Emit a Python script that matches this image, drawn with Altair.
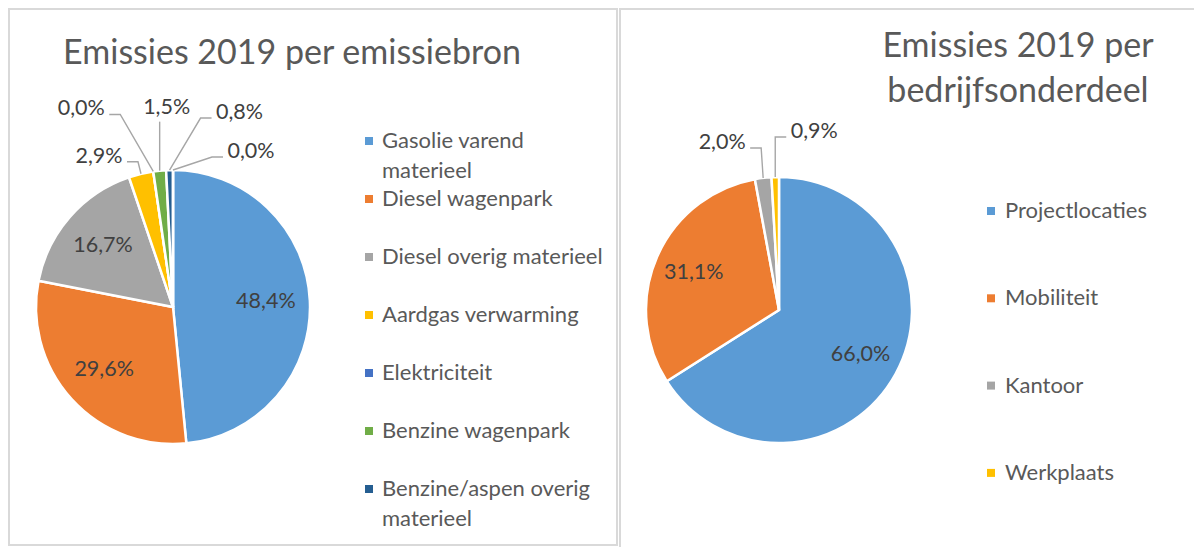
import math
import textwrap
import altair as alt
import pandas as pd

# ---------------- data ----------------
source_names = [
    "Gasolie varend materieel",
    "Diesel wagenpark",
    "Diesel overig materieel",
    "Aardgas verwarming",
    "Elektriciteit",
    "Benzine wagenpark",
    "Benzine/aspen overig materieel",
    "Overig",
]
source_values = [48.4, 29.6, 16.7, 2.9, 0.0, 1.5, 0.8, 0.0]
source_colors = ["#5B9BD5", "#ED7D31", "#A5A5A5", "#FFC000", "#4472C4", "#70AD47", "#255E91", "#9E480E"]
source_legend_count = 7  # the last category is not shown in the legend

unit_names = ["Projectlocaties", "Mobiliteit", "Kantoor", "Werkplaats"]
unit_values = [66.0, 31.1, 2.0, 0.9]
unit_colors = ["#5B9BD5", "#ED7D31", "#A5A5A5", "#FFC000"]

title_left = ["Emissies 2019 per emissiebron"]
title_right = ["Emissies 2019 per", "bedrijfsonderdeel"]

# ---------------- layout (page pixels) ----------------
W, H = 1186, 539
OX, OY = 8, 8
FONT = "Lato"
TXT = "#595959"
LAB = "#404040"

pie_left = dict(cx=173, cy=307, r=137)
pie_right = dict(cx=779, cy=310, r=133)

# outside data labels: offset of the label from the slice edge, and where the leader leaves it
outside_left = {
    "Aardgas verwarming": (-42, -17, "left"),
    "Elektriciteit": (-72, -62, "left"),
    "Benzine wagenpark": (7, -63, "below"),
    "Benzine/aspen overig materieel": (70, -57, "right"),
    "Overig": (78, -18, "right"),
}
outside_right = {
    "Kantoor": (-41, -35, "left"),
    "Werkplaats": (39, -45, "right"),
}


def pct(v):
    return f"{v:.1f}%".replace(".", ",")


def pie_frame(names, values, colors, outside):
    df = pd.DataFrame({"name": names, "v": values, "color": colors})
    df["i"] = range(len(df))
    df["inlab"] = ["" if n in outside else pct(v) for n, v in zip(names, values)]
    total = float(sum(values))
    cum = df["v"].cumsum()
    df["mid"] = (cum - df["v"] / 2) / total * 2 * math.pi
    return df


def outside_frames(df, pie, outside, key):
    texts, pts = [], []
    for _, row in df.iterrows():
        if row["name"] not in outside:
            continue
        dx, dy, side = outside[row["name"]]
        ex = pie["cx"] + pie["r"] * math.sin(row["mid"])
        ey = pie["cy"] - pie["r"] * math.cos(row["mid"])
        tx, ty = ex + dx, ey + dy
        texts.append({"x": tx, "y": ty, "t": pct(row["v"])})
        if side == "left":
            p = [(tx + 28, ty + 5), (tx + 39, ty + 5)]
        elif side == "right":
            p = [(tx - 28, ty + 5), (tx - 39, ty + 5)]
        else:
            p = [(ex, ty + 14), (ex, ty + 14)]
        p.append((ex, ey))
        for k, (px, py) in enumerate(p):
            pts.append({"id": f"{key}{row['i']}", "k": k, "x": px, "y": py})
    return pd.DataFrame(texts), pd.DataFrame(pts)


def legend_frames(names, colors, sq_x, txt_x, y0, step, width):
    sq, tx = [], []
    for i, (n, c) in enumerate(zip(names, colors)):
        y = y0 + step * i
        sq.append({"x": sq_x, "y": y, "color": c})
        for j, line in enumerate(textwrap.wrap(n, width)):
            tx.append({"x": txt_x, "y": y + 30 * j, "t": line})
    return pd.DataFrame(sq), pd.DataFrame(tx)


df_left = pie_frame(source_names, source_values, source_colors, outside_left)
df_right = pie_frame(unit_names, unit_values, unit_colors, outside_right)

ot_l, op_l = outside_frames(df_left, pie_left, outside_left, "L")
ot_r, op_r = outside_frames(df_right, pie_right, outside_right, "R")
out_text = pd.concat([ot_l, ot_r], ignore_index=True)
out_pts = pd.concat([op_l, op_r], ignore_index=True)

lsq_l, ltx_l = legend_frames(source_names[:source_legend_count], source_colors[:source_legend_count],
                             369, 382, 141, 58, 23)
lsq_r, ltx_r = legend_frames(unit_names, unit_colors, 991, 1005, 211, 87.3, 23)
leg_sq = pd.concat([lsq_l, lsq_r], ignore_index=True)
leg_tx = pd.concat([ltx_l, ltx_r], ignore_index=True)

titles = pd.DataFrame(
    [{"x": 292, "y": 54, "t": title_left[0]}]
    + [{"x": 1018, "y": 47 + 45 * j, "t": t} for j, t in enumerate(title_right)]
)

frames = pd.DataFrame([
    {"x": 9, "x2": 617, "y": 9, "y2": 545},
    {"x": 620, "x2": 1300, "y": 9, "y2": 700},
])

# ---------------- chart ----------------
X = lambda f="x": alt.X(f"{f}:Q", scale=alt.Scale(domain=[OX, OX + W], nice=False, zero=False), axis=None)
Y = lambda f="y": alt.Y(f"{f}:Q", scale=alt.Scale(domain=[OY, OY + H], nice=False, zero=False, reverse=True), axis=None)

border = alt.Chart(frames).mark_rect(fill=None, stroke="#D9D9D9", strokeWidth=2).encode(
    x=X(), x2="x2:Q", y=Y(), y2="y2:Q"
)


def pie_layers(df, pie):
    base = alt.Chart(df).encode(
        theta=alt.Theta("v:Q", stack=True),
        order=alt.Order("i:Q"),
        x=alt.value(pie["cx"] - OX),
        y=alt.value(pie["cy"] - OY),
    )
    arcs = base.mark_arc(radius=pie["r"], stroke="white", strokeWidth=2.5).encode(
        color=alt.Color("color:N", scale=None)
    )
    inside = base.mark_text(radius=93, font=FONT, fontSize=21.5, color=LAB, baseline="middle").encode(
        text="inlab:N"
    )
    return arcs, inside


a1, t1 = pie_layers(df_left, pie_left)
a2, t2 = pie_layers(df_right, pie_right)

leaders = alt.Chart(out_pts).mark_line(color="#A6A6A6", strokeWidth=1.4).encode(
    x=X(), y=Y(), detail="id:N", order="k:Q"
)
out_labels = alt.Chart(out_text).mark_text(font=FONT, fontSize=21.5, color=LAB, baseline="middle").encode(
    x=X(), y=Y(), text="t:N"
)
squares = alt.Chart(leg_sq).mark_square(size=64, opacity=1).encode(
    x=X(), y=Y(), color=alt.Color("color:N", scale=None)
)
legend_text = alt.Chart(leg_tx).mark_text(font=FONT, fontSize=22, color=TXT, align="left", baseline="middle").encode(
    x=X(), y=Y(), text="t:N"
)
title_text = alt.Chart(titles).mark_text(font=FONT, fontSize=34, color=TXT, baseline="middle").encode(
    x=X(), y=Y(), text="t:N"
)

chart = alt.layer(
    border, a1, t1, a2, t2, leaders, out_labels, squares, legend_text, title_text
).resolve_scale(theta="independent").properties(
    width=W, height=H, padding=0, autosize=alt.AutoSizeParams(type="none"), background="white"
).configure_view(stroke=None)

chart.save("out.html", embed_options={"renderer": "svg", "actions": False})
